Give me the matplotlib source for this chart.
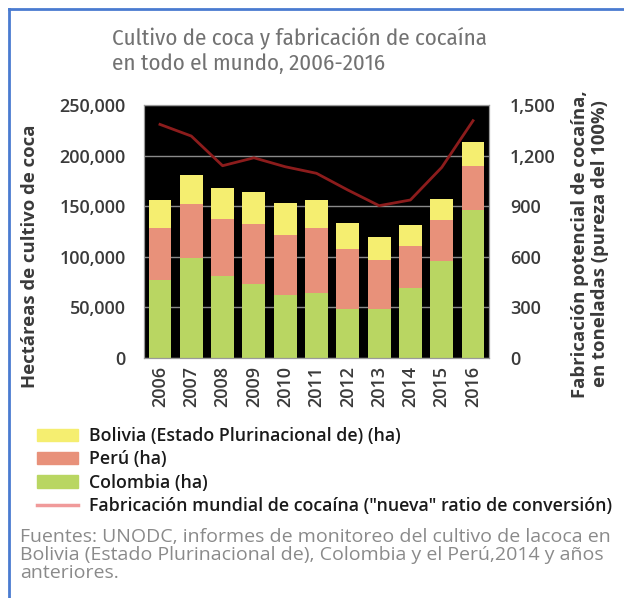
import matplotlib.pyplot as plt
import numpy as np
from matplotlib.patches import Patch
from matplotlib.lines import Line2D
from matplotlib.ticker import FuncFormatter

plt.rcParams['font.family'] = ['Open Sans', 'DejaVu Sans']

years = ['2006', '2007', '2008', '2009', '2010', '2011', '2012', '2013', '2014', '2015', '2016']
colombia = [77000, 99000, 81000, 73000, 62000, 64000, 48000, 48000, 69000, 96000, 146000]
peru = [51000, 53000, 56000, 59000, 60000, 64000, 60000, 49000, 42000, 40000, 44000]
bolivia = [28000, 29000, 31000, 32000, 31000, 28000, 25000, 23000, 20000, 21000, 23000]
cocaine = [1385, 1316, 1140, 1187, 1134, 1095, 996, 903, 937, 1130, 1407]

c_col = '#b9d662'
c_per = '#e8917a'
c_bol = '#f5ee70'
c_line = '#8c1c1c'
txt = '#3a3a3a'

fig = plt.figure(figsize=(6.24, 5.98), dpi=100)
W, H = 624, 598

# blue frame lines (top and left)
fig.add_artist(Line2D([9 / W, 1], [1 - 9 / H, 1 - 9 / H], color='#4a7bd0', lw=2))
fig.add_artist(Line2D([9 / W, 9 / W], [0, 1 - 9 / H], color='#4a7bd0', lw=2))

fig.text(112 / W, 1 - 50 / H, 'Cultivo de coca y fabricación de cocaína\nen todo el mundo, 2006-2016',
         fontsize=16.5, fontweight='normal', color='#727272', ha='left', va='center',
         linespacing=1.25, family=['Fira Sans Condensed', 'Open Sans', 'DejaVu Sans'])

ax = fig.add_axes([144 / W, 1 - 358 / H, 345 / W, 253 / H])
ax.set_facecolor('black')
x = np.arange(len(years))
w = 0.73
ax.bar(x, colombia, w, color=c_col, zorder=2)
ax.bar(x, peru, w, bottom=colombia, color=c_per, zorder=2)
bot2 = [a + b for a, b in zip(colombia, peru)]
ax.bar(x, bolivia, w, bottom=bot2, color=c_bol, zorder=2)
ax.set_xlim(-0.51, 10.51)
ax.set_ylim(0, 250000)
ax.set_yticks(range(0, 250001, 50000))
ax.yaxis.set_major_formatter(FuncFormatter(lambda v, p: f'{int(v):,}'))
ax.grid(axis='y', color='#8a8a8a', lw=1, zorder=1)
ax.set_axisbelow(True)
ax.set_xticks(x)
ax.set_xticklabels(years, rotation=90)
ax.tick_params(axis='y', length=0, labelsize=13, labelcolor=txt, pad=13)
ax.tick_params(axis='x', length=0, labelsize=13, labelcolor=txt, pad=6)
for lab in ax.get_yticklabels() + ax.get_xticklabels():
    lab.set_fontweight('semibold')
for s in ax.spines.values():
    s.set_color('#9a9a9a')

ax2 = ax.twinx()
ax2.plot(x, cocaine, color=c_line, lw=2, zorder=3)
ax2.set_ylim(0, 1500)
ax2.set_yticks(range(0, 1501, 300))
ax2.yaxis.set_major_formatter(FuncFormatter(lambda v, p: f'{int(v):,}'))
ax2.tick_params(length=0, labelsize=13, labelcolor=txt, pad=15)
for lab in ax2.get_yticklabels():
    lab.set_fontweight('semibold')
for s in ax2.spines.values():
    s.set_color('#9a9a9a')

# axis titles sit a bit below the plot centre in the original
fig.text(30 / W, 1 - 256 / H, 'Hectáreas de cultivo de coca', rotation=90, fontsize=13.3,
         fontweight='bold', color=txt, ha='center', va='center')
fig.text(590 / W, 1 - 244 / H, 'Fabricación potencial de cocaína,\nen toneladas (pureza del 100%)',
         rotation=90, fontsize=13.3, fontweight='bold', color=txt, ha='center', va='center',
         linespacing=1.1)

handles = [Patch(color=c_bol), Patch(color=c_per), Patch(color=c_col),
           Line2D([], [], color='#f09a9a', lw=2.5)]
labels = ['Bolivia (Estado Plurinacional de) (ha)', 'Perú (ha)', 'Colombia (ha)',
          'Fabricación mundial de cocaína ("nueva" ratio de conversión)']
leg = fig.legend(handles, labels, loc='upper left', bbox_to_anchor=(37 / W, 1 - 427 / H),
                 frameon=False, prop={'size': 12.8, 'weight': 'semibold'}, handlelength=2.3,
                 handleheight=0.7, labelspacing=0.3, handletextpad=0.65, borderpad=0,
                 borderaxespad=0)
for t in leg.get_texts():
    t.set_color('#1a1a1a')

fig.text(20 / W, 1 - 555 / H,
         'Fuentes: UNODC, informes de monitoreo del cultivo de lacoca en\n'
         'Bolivia (Estado Plurinacional de), Colombia y el Perú,2014 y años\n'
         'anteriores.',
         fontsize=14, color='#8a8a8a', ha='left', va='center', linespacing=1.0)

fig.savefig('out.png', dpi=100)
